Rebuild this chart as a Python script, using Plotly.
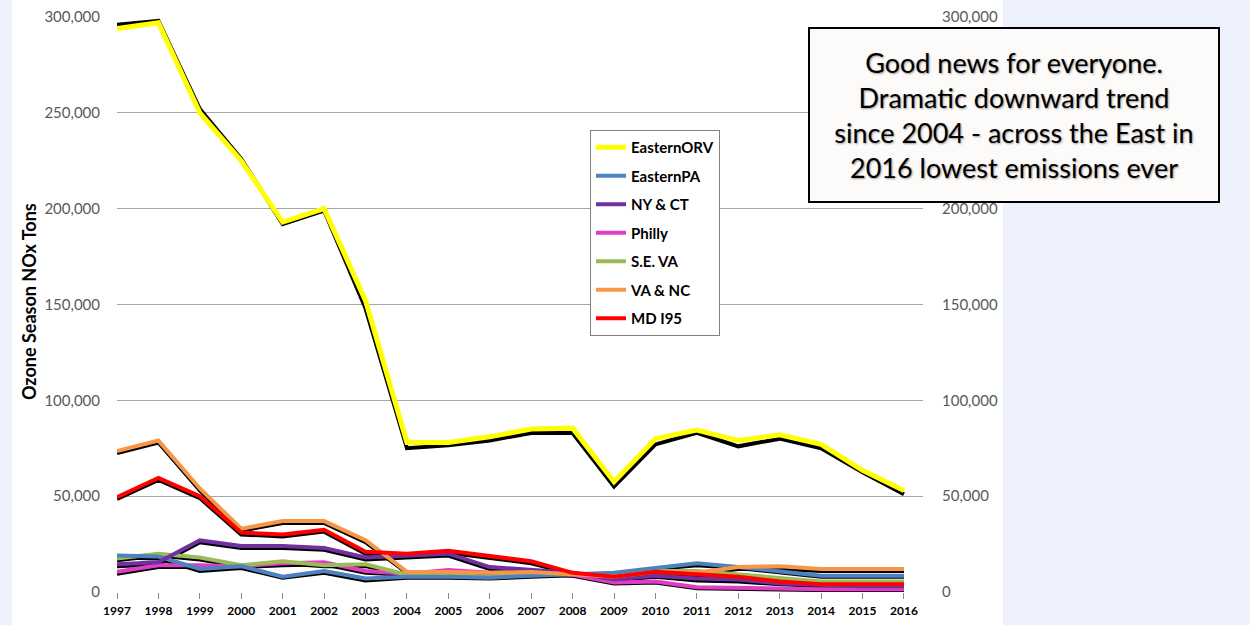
import plotly.graph_objects as go

years = list(range(1997, 2017))

eastern_orv = [294000, 297000, 250000, 225000, 193000, 200000, 152000, 78000, 78000, 81000,
               85000, 85500, 57500, 80000, 84500, 79000, 82000, 77000, 63500, 53000]
eastern_pa = [19000, 18500, 12000, 13500, 8000, 11000, 7000, 8000, 8000, 7500,
              8500, 9000, 10000, 12500, 15000, 13000, 11000, 8500, 8500, 8500]
ny_ct = [14500, 15500, 27000, 24000, 24000, 23000, 18000, 19000, 20000, 13000,
         11500, 10000, 6500, 8500, 7000, 6500, 4500, 3500, 3000, 3000]
philly = [10500, 14000, 14000, 13500, 15000, 15500, 11000, 9500, 11500, 10000,
          10000, 9000, 5000, 5500, 2500, 2000, 2000, 1500, 1500, 1500]
se_va = [17500, 20000, 18000, 14000, 16000, 14000, 14500, 9000, 9000, 8000,
         9500, 9500, 8500, 11000, 11000, 9000, 7000, 5500, 5500, 5500]
va_nc = [73500, 79000, 54000, 33000, 37000, 37000, 27000, 10500, 10500, 10000,
         10500, 9000, 8000, 10500, 10000, 13000, 13500, 12000, 12000, 12000]
md_i95 = [49500, 59500, 50000, 31000, 30000, 32500, 21000, 20000, 21500, 18500,
          16000, 10000, 8000, 10500, 9500, 8000, 5500, 4000, 4000, 4000]

# second (black) set of values drawn beneath the coloured lines
eastern_orv_b = [296000, 298000, 252000, 226000, 192000, 199000, 148000, 75000, 76500, 79000,
                 83000, 83000, 55000, 77000, 83000, 76000, 80000, 75000, 62500, 51000]
eastern_pa_b = [18000, 17500, 11000, 12500, 7500, 10000, 6000, 7500, 7500, 7000,
                8000, 8500, 9500, 12000, 14000, 12500, 10500, 8000, 8000, 8000]
ny_ct_b = [13500, 14500, 26000, 23000, 23000, 22000, 17000, 18000, 19000, 12000,
           11000, 9500, 6000, 8000, 6000, 5500, 4000, 3000, 2500, 2500]
philly_b = [9500, 13000, 13000, 13000, 14000, 14500, 10000, 9000, 10500, 9500,
            9500, 8500, 4500, 5000, 2000, 1500, 1500, 1000, 1000, 1000]
se_va_b = [16500, 19000, 17000, 13500, 15000, 13500, 13500, 8500, 8500, 7500,
           9000, 9000, 8000, 10500, 10000, 8500, 6500, 5000, 5000, 5000]
va_nc_b = [72500, 78000, 53000, 32000, 36000, 36000, 26000, 10000, 10000, 9500,
           10000, 8500, 7500, 10000, 9500, 12000, 12000, 11000, 11000, 11000]
md_i95_b = [48500, 58500, 49000, 30000, 29000, 31500, 20000, 19000, 20500, 17500,
            15000, 9500, 7000, 9500, 8500, 7000, 4500, 3000, 3000, 3000]

y_ticks = [0, 50000, 100000, 150000, 200000, 250000, 300000]
y_tick_labels = ["0", "50,000", "100,000", "150,000", "200,000", "250,000", "300,000"]
# right axis: 250,000 is hidden behind the call-out box
y2_ticks = [0, 50000, 100000, 150000, 200000, 300000]
y2_tick_labels = ["0", "50,000", "100,000", "150,000", "200,000", "300,000"]

series = [
    ("EasternORV", eastern_orv, eastern_orv_b, "#ffff00", 5, 7),
    ("EasternPA", eastern_pa, eastern_pa_b, "#4f81bd", 4, 3),
    ("NY & CT", ny_ct, ny_ct_b, "#7030a0", 4, 4),
    ("Philly", philly, philly_b, "#e03cc4", 4, 1),
    ("S.E. VA", se_va, se_va_b, "#9bbb59", 4, 2),
    ("VA & NC", va_nc, va_nc_b, "#f79646", 4, 5),
    ("MD I95", md_i95, md_i95_b, "#ff0000", 4, 6),
]

fig = go.Figure()

for name, vals, bvals, col, w, z in series:
    fig.add_trace(go.Scatter(x=years, y=bvals, mode="lines",
                             line=dict(color="#000000", width=4),
                             showlegend=False, hoverinfo="skip", zorder=0))

for name, vals, bvals, col, w, z in series:
    fig.add_trace(go.Scatter(x=years, y=vals, mode="lines", name=name,
                             legendgroup=name,
                             line=dict(color=col, width=w), zorder=z))

fig.add_trace(go.Scatter(x=[years[0]], y=[0], yaxis="y2", mode="lines",
                         line=dict(width=0), showlegend=False, hoverinfo="skip"))

L, R, T, B = 117, 923, 17, 592
W, H = 1250, 625
pw, ph = R - L, B - T

fig.update_layout(
    width=W, height=H,
    margin=dict(l=L, r=W - R, t=T, b=H - B, pad=0, autoexpand=False),
    paper_bgcolor="#eef2fc",
    plot_bgcolor="#ffffff",
    font=dict(family="Lato, Carlito, Calibri, sans-serif", color="#000000"),
    xaxis=dict(range=[1997, 2016.46], tickmode="array", tickvals=years,
               ticktext=[str(y) for y in years],
               tickfont=dict(size=12, color="#000000", weight="bold"),
               ticks="outside", ticklen=6, tickcolor="#8c8c8c",
               showgrid=False, showline=True, linecolor="#8c8c8c", linewidth=1,
               zeroline=False, ticklabelstandoff=2, automargin=False),
    yaxis=dict(range=[0, 300000], tickmode="array", tickvals=y_ticks,
               ticktext=y_tick_labels, tickfont=dict(size=15, color="#595959"),
               showgrid=True, gridcolor="#a6a6a6", gridwidth=1,
               zeroline=False, showline=False, ticks="", ticklabelstandoff=16,
               automargin=False),
    yaxis2=dict(range=[0, 300000], overlaying="y", side="right",
                tickmode="array", tickvals=y2_ticks, ticktext=y2_tick_labels,
                tickfont=dict(size=15, color="#595959"),
                showgrid=False, zeroline=False, showline=False, ticks="",
                ticklabelstandoff=18, automargin=False),
    legend=dict(x=(590 - L) / pw, y=(B - 130) / ph, xanchor="left", yanchor="top",
                bgcolor="#ffffff", bordercolor="#808080", borderwidth=1,
                font=dict(size=15, color="#000000", weight="bold"),
                traceorder="grouped", itemwidth=30, tracegroupgap=6),
    showlegend=True,
)

fig.add_shape(type="rect", xref="paper", yref="paper", layer="below",
              x0=(12 - L) / pw, x1=(1003 - L) / pw,
              y0=(B - H - 5) / ph, y1=(B + 5) / ph,
              fillcolor="#ffffff", line=dict(width=0))

fig.add_annotation(xref="paper", yref="paper", x=(29 - L) / pw, y=(B - 302) / ph,
                   xanchor="center", yanchor="middle",
                   text="<b>Ozone Season NOx Tons</b>", textangle=-90,
                   showarrow=False, font=dict(size=18, color="#000000"))

fig.add_annotation(xref="paper", yref="paper",
                   x=(1014 - L) / pw, y=(B - 115) / ph,
                   xanchor="center", yanchor="middle",
                   text="Good news for everyone.<br>Dramatic downward trend<br>since 2004 - across the East in<br>2016 lowest emissions ever",
                   showarrow=False, align="center",
                   font=dict(size=27, color="#000000", shadow="1px 1px 2px #999999"),
                   bgcolor="#fcfbf9", bordercolor="#000000", borderwidth=2,
                   borderpad=2, width=404, height=168)

fig.write_html("out.html", config={"displayModeBar": False},
               post_script="document.body.style.margin='0';")
